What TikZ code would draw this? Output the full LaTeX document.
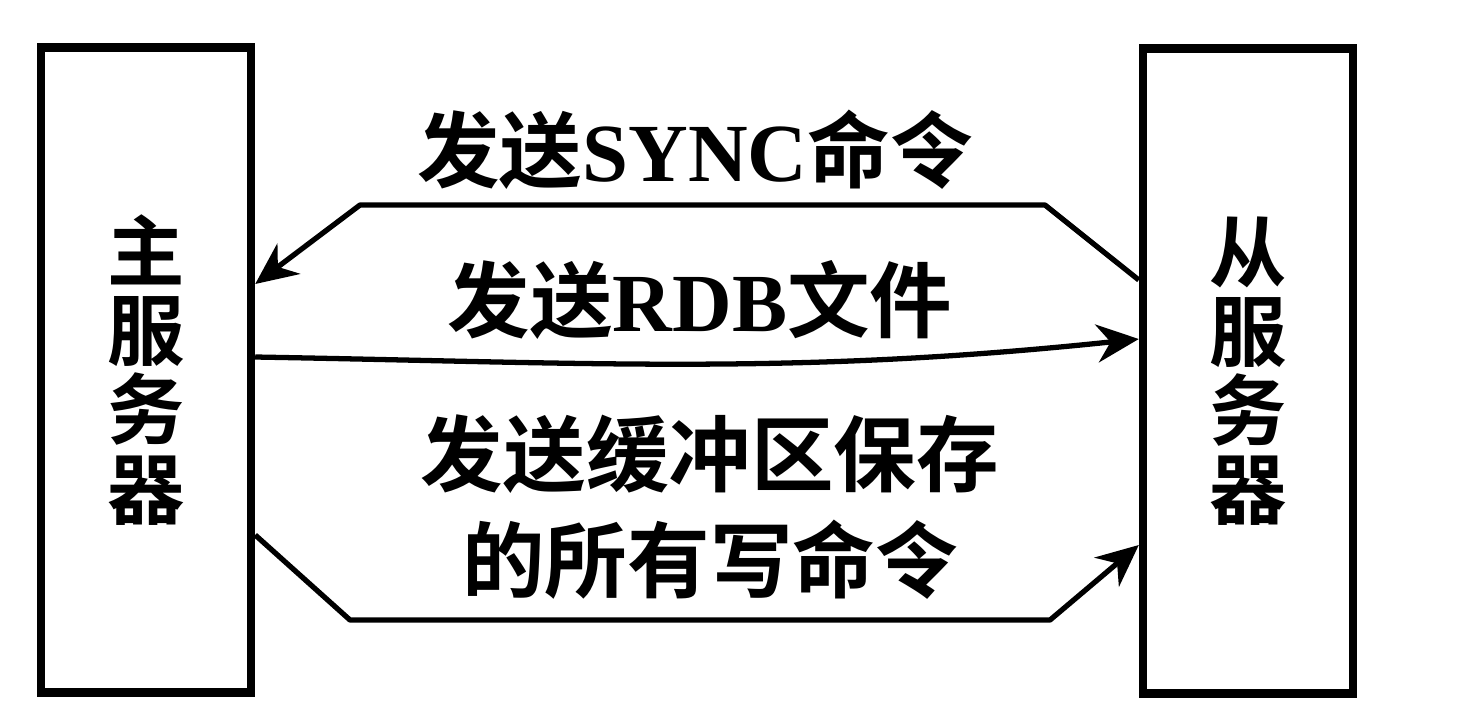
\documentclass[tikz,border=0pt]{standalone}
\usepackage{fontspec}
\newfontfamily\cjk{Noto Sans CJK SC}[BoldFont={Noto Sans CJK SC Bold}]
\newfontfamily\latn{Liberation Serif}
\usetikzlibrary{arrows.meta,positioning}

\begin{document}
\begin{tikzpicture}[
  srvbox/.style={draw,line width=2.4pt,minimum width=2.1cm,minimum height=6.45cm,
                 align=center,font=\cjk\bfseries\fontsize{22}{22.5}\selectfont},
  msg/.style={align=center,font=\cjk\bfseries\fontsize{23.5}{30}\selectfont},
  arr/.style={-{Stealth[length=4.2mm,width=3.8mm]},line width=1.5pt,line join=round}]
  \useasboundingbox (0,0) rectangle (14.76,7.26);
  \node[srvbox] (master) at (1.46,3.56) {主\\服\\务\\器};
  \node[srvbox] (slave) at (12.48,3.55) {从\\服\\务\\器};
  % messages between the servers
  \node[msg] (sync) at (6.95,5.76) {发送{\latn\bfseries SYNC}命令};
  \node[msg] (rdb) at (7.0,4.26) {发送{\latn\bfseries RDB}文件};
  \node[msg] (buf) at (7.1,2.19) {发送缓冲区保存\\的所有写命令};
  \draw[arr] ([yshift=9.1mm]slave.west) -- (10.45,5.21) -- (3.6,5.21)
    -- ([yshift=8.6mm]master.east);
  \draw[arr] ([yshift=1.3mm]master.east) to[out=-1,in=186] ([yshift=3.2mm]slave.west);
  \draw[arr] ([yshift=-16.5mm]master.east) -- (3.5,1.06) -- (10.5,1.06)
    -- ([yshift=-17.4mm]slave.west);
\end{tikzpicture}
\end{document}
